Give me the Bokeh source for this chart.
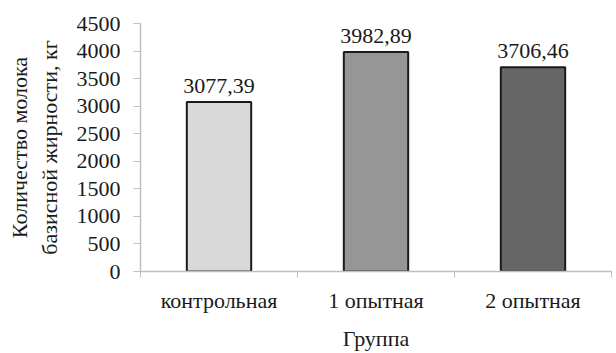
from bokeh.plotting import figure
from bokeh.models import ColumnDataSource, FixedTicker, Range1d, LabelSet
from bokeh.embed import file_html
from bokeh.resources import INLINE

categories = ["контрольная", "1 опытная", "2 опытная"]
values = [3077.39, 3982.89, 3706.46]
value_labels = ["3077,39", "3982,89", "3706,46"]
colors = ["#d9d9d9", "#969696", "#666666"]
y_ticks = [0, 500, 1000, 1500, 2000, 2500, 3000, 3500, 4000, 4500]

FONT = "Liberation Serif"
FS = "22px"
x = [i + 0.5 for i in range(len(categories))]
src = ColumnDataSource(dict(x=x, top=values, lab=value_labels, color=colors))

p = figure(width=616, height=353, output_backend="svg", toolbar_location=None,
           x_range=Range1d(0, 3), y_range=Range1d(0, 4500),
           min_border_left=140, min_border_right=5, min_border_top=23, min_border_bottom=80)
p.outline_line_color = None
p.xgrid.visible = False
p.ygrid.visible = False

p.vbar(x="x", top="top", width=0.41, bottom=0, source=src, fill_color="color",
       line_color="#1a1a1a", line_width=2)

labels = LabelSet(x="x", y="top", text="lab", source=src, text_align="center",
                  text_baseline="bottom", y_offset=9, text_font=FONT,
                  text_font_size=FS, text_color="#1a1a1a")
p.add_layout(labels)

p.xaxis.ticker = FixedTicker(ticks=x, minor_ticks=[0, 1, 2, 3])
p.xaxis.major_label_overrides = {xi: c for xi, c in zip(x, categories)}
p.xaxis.major_tick_out = 0
p.xaxis.major_tick_in = 0
p.xaxis.minor_tick_out = 6
p.xaxis.minor_tick_in = 0
p.xaxis.minor_tick_line_color = "#bfbfbf"
p.xaxis.axis_line_color = "#bfbfbf"
p.xaxis.axis_line_width = 1.5
p.xaxis.major_label_standoff = 10
p.xaxis.axis_label = "Группа"
p.xaxis.axis_label_standoff = 10

p.yaxis.ticker = FixedTicker(ticks=y_ticks, minor_ticks=[])
p.yaxis.major_tick_out = 7
p.yaxis.major_tick_in = 0
p.yaxis.major_tick_line_color = "#bfbfbf"
p.yaxis.axis_line_color = "#bfbfbf"
p.yaxis.axis_line_width = 1.5
p.yaxis.major_label_standoff = 13
p.yaxis.axis_label = "Количество молока\nбазисной жирности, кг"
p.yaxis.axis_label_standoff = 12

for ax in (p.xaxis, p.yaxis):
    ax.major_label_text_font = FONT
    ax.major_label_text_font_size = FS
    ax.major_label_text_color = "#1a1a1a"
    ax.axis_label_text_font = FONT
    ax.axis_label_text_font_size = FS
    ax.axis_label_text_font_style = "normal"
    ax.axis_label_text_color = "#1a1a1a"

open("out.html", "w").write(file_html(p, INLINE))
